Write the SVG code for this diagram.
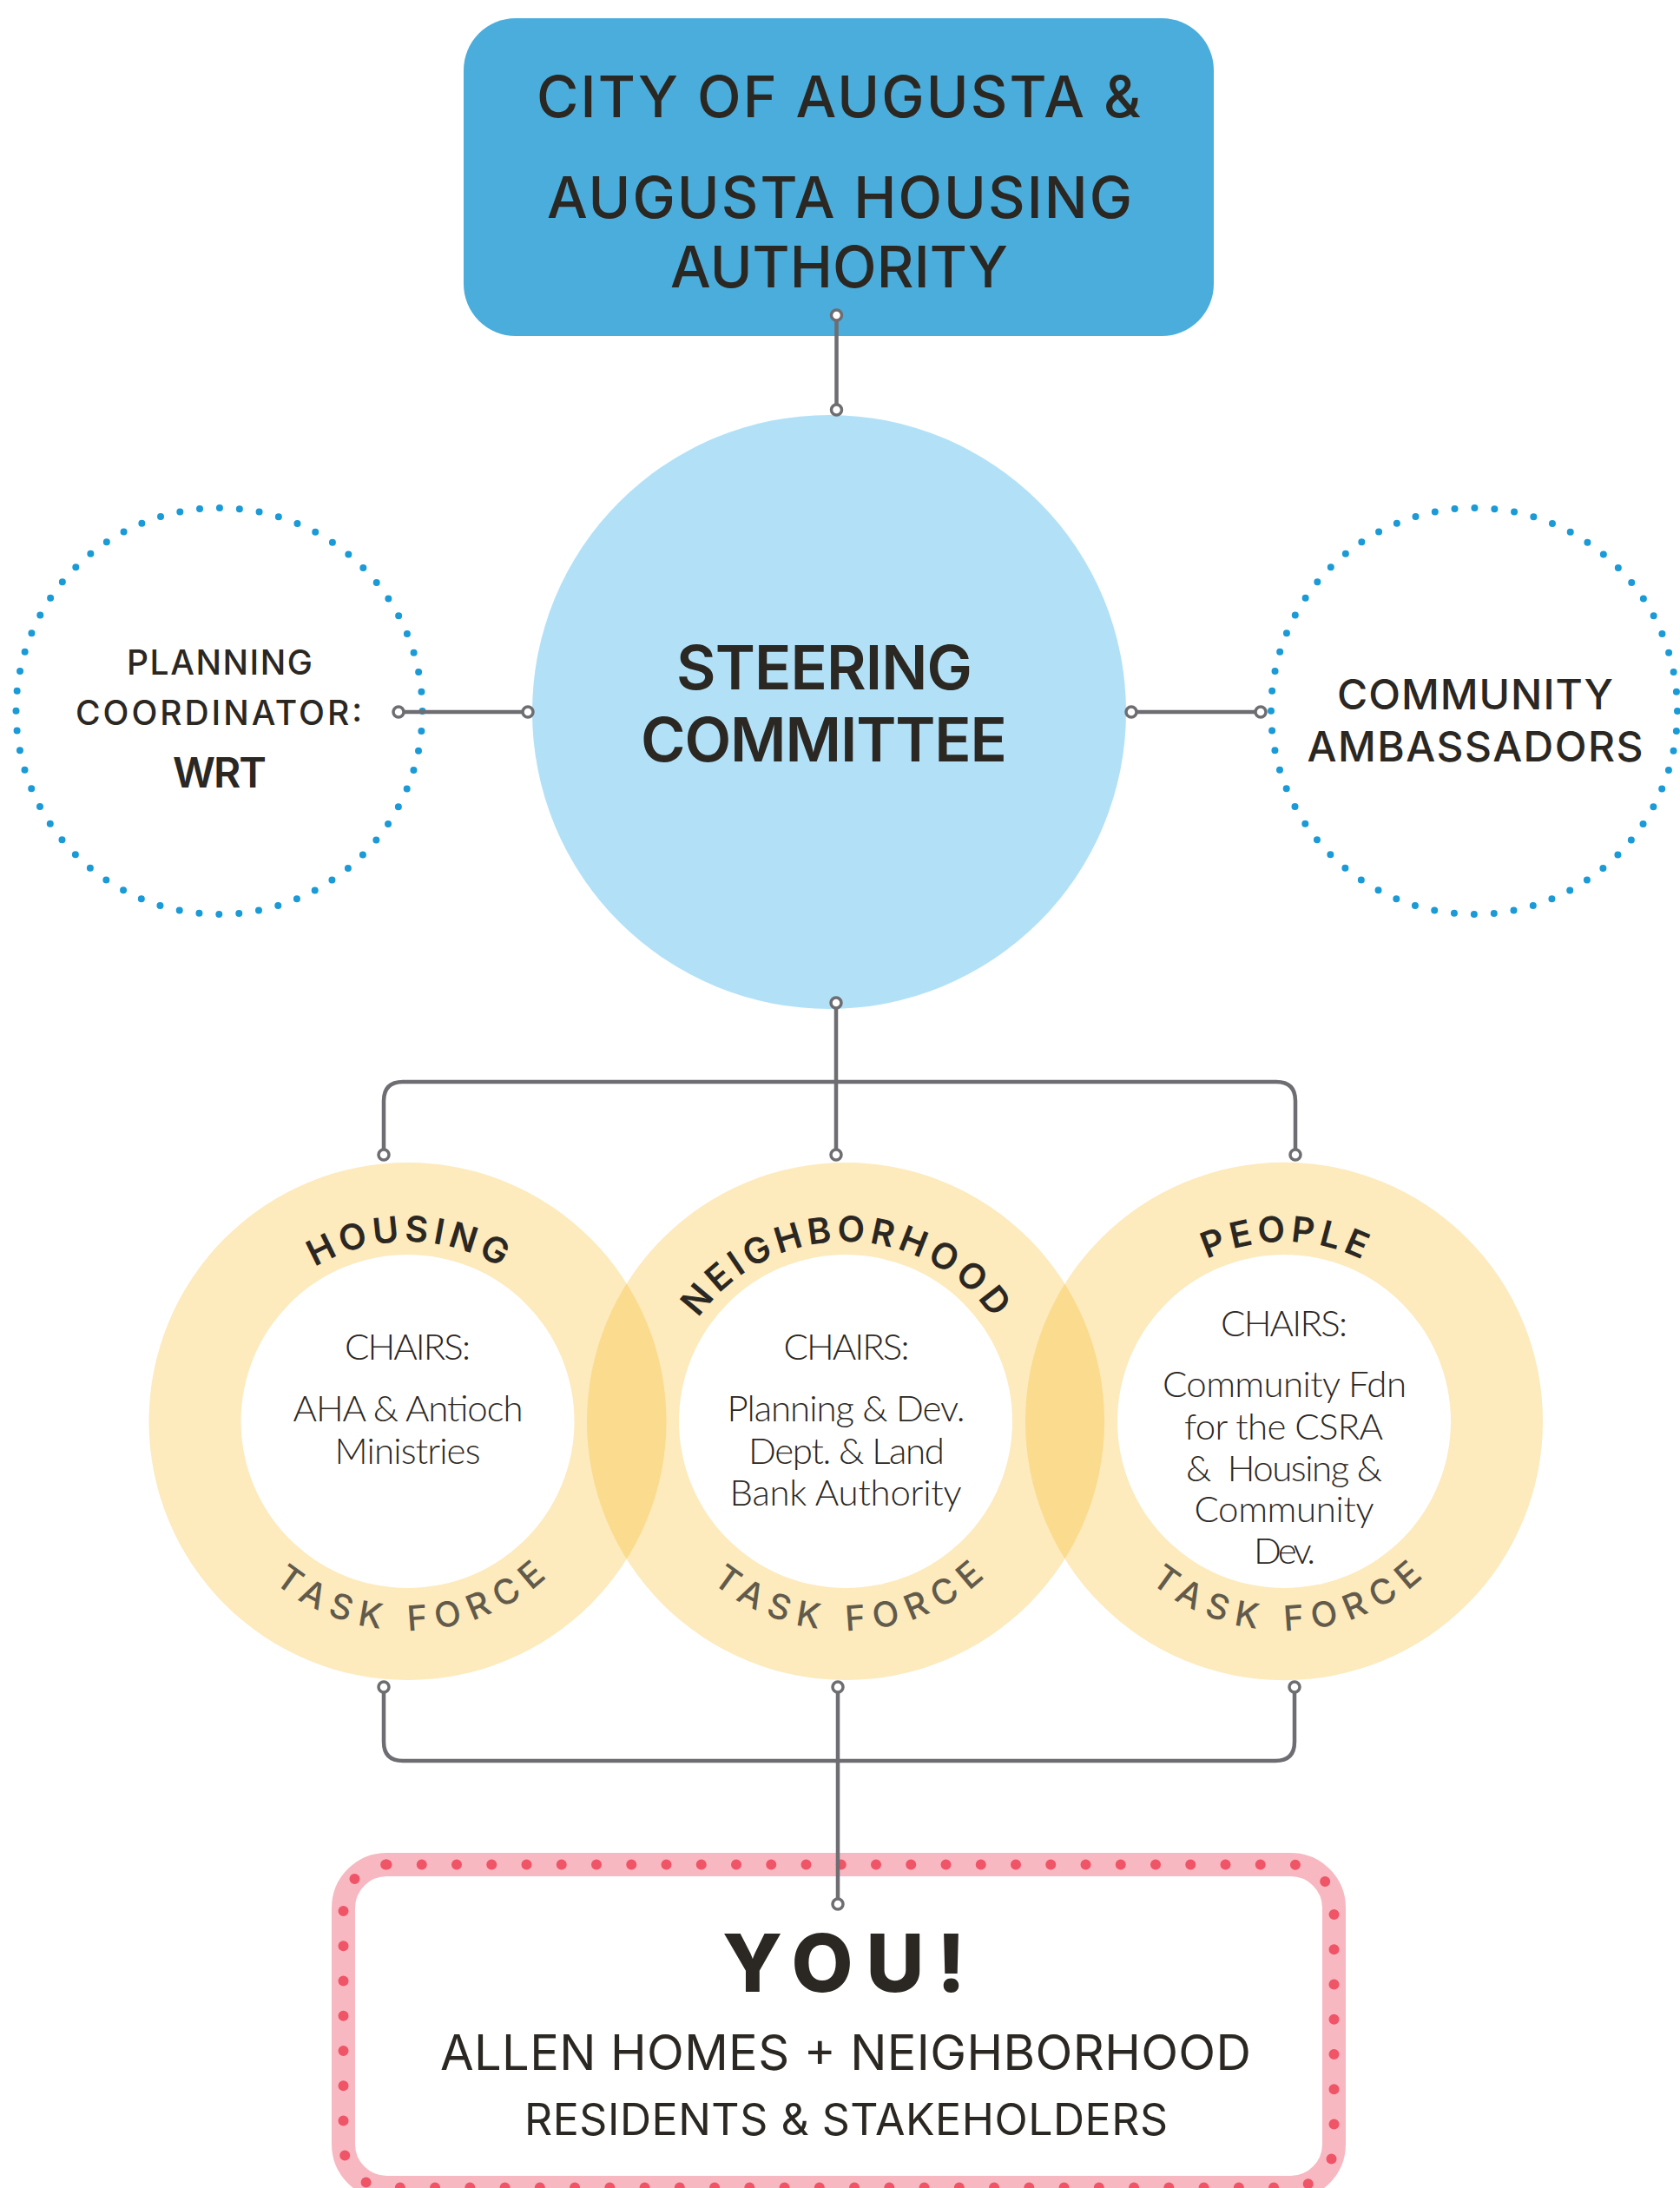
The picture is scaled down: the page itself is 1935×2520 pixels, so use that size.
<svg xmlns="http://www.w3.org/2000/svg" width="1935" height="2520" viewBox="0 0 1935 2520">
<defs>
<style>
.h{font-family:Inter,"Liberation Sans",sans-serif;fill:#2b2722;text-anchor:middle}
.c{font-family:Lato,"Liberation Sans",sans-serif;font-weight:300;fill:#2b2722;font-size:42px;text-anchor:middle}
.lbl{font-family:Inter,"Liberation Sans",sans-serif;font-weight:600;font-size:41px;fill:#2b2722;letter-spacing:5.5px}
.tf{font-family:Inter,"Liberation Sans",sans-serif;font-weight:500;font-size:40px;fill:#625b4b;letter-spacing:10.5px}
.ring{fill:#f8b61a;fill-opacity:.29;fill-rule:evenodd}
.dots{fill:none;stroke:#1a9ad6;stroke-width:8;stroke-linecap:round;stroke-dasharray:0 22.973}
.con{fill:none;stroke:#6d6d72;stroke-width:4.5;stroke-linecap:round}
.end{fill:#fff;stroke:#6d6d72;stroke-width:3.5}
</style>
<path id="hTop" d="M262.5,1637 A207,207 0 0,1 676.5,1637"/>
<path id="nTop" d="M767,1637 A207,207 0 0,1 1181,1637"/>
<path id="pTop" d="M1272,1637 A207,207 0 0,1 1686,1637"/>
<path id="hBot" d="M228.5,1637 A241,241 0 0,0 710.5,1637"/>
<path id="nBot" d="M733,1637 A241,241 0 0,0 1215,1637"/>
<path id="pBot" d="M1238,1637 A241,241 0 0,0 1720,1637"/>
</defs>
<rect width="1935" height="2520" fill="#fff"/>

<g id="authority">
<rect x="534" y="21" width="864" height="366" rx="60" fill="#4aaddc"/>
<text class="h" x="966" y="135" font-size="66" font-weight="500" textLength="696" lengthAdjust="spacing">CITY OF AUGUSTA &amp;</text>
<text class="h" x="967" y="251" font-size="66" font-weight="500" textLength="674" lengthAdjust="spacing">AUGUSTA HOUSING</text>
<text class="h" x="966.5" y="331" font-size="66" font-weight="500" textLength="389" lengthAdjust="spacing">AUTHORITY</text>
</g>

<g id="steering">
<circle cx="955" cy="820" r="342" fill="#b2e1f7"/>
<text class="h" x="949.5" y="794" font-size="70" font-weight="600" textLength="341" lengthAdjust="spacing">STEERING</text>
<text class="h" x="949" y="877" font-size="70" font-weight="600" textLength="422" lengthAdjust="spacing">COMMITTEE</text>
</g>

<g id="planning">
<circle class="dots" cx="252.5" cy="819" r="234"/>
<text class="h" x="253" y="777" font-size="39" font-weight="500" textLength="214" lengthAdjust="spacing">PLANNING</text>
<text class="h" x="252" y="835" font-size="39" font-weight="500" textLength="330" lengthAdjust="spacing">COORDINATOR:</text>
<text class="h" x="253" y="907" font-size="48" font-weight="600" textLength="108" lengthAdjust="spacing">WRT</text>
</g>

<g id="ambassadors">
<circle class="dots" cx="1698" cy="819" r="234"/>
<text class="h" x="1699" y="817" font-size="48" font-weight="500" textLength="318" lengthAdjust="spacing">COMMUNITY</text>
<text class="h" x="1699" y="877" font-size="48" font-weight="500" textLength="387" lengthAdjust="spacing">AMBASSADORS</text>
</g>

<g id="housing">
<path class="ring" d="M171.5,1637 a298,298 0 1,0 596,0 a298,298 0 1,0 -596,0Z M277.5,1637 a192,192 0 1,0 384,0 a192,192 0 1,0 -384,0Z"/>
<text class="lbl"><textPath href="#hTop" startOffset="328" text-anchor="middle">HOUSING</textPath></text>
<text class="tf"><textPath href="#hBot" startOffset="388" text-anchor="middle">TASK FORCE</textPath></text>
<text class="c" x="469.5" y="1566" textLength="145" lengthAdjust="spacing">CHAIRS:</text>
<text class="c" x="470" y="1637" textLength="265" lengthAdjust="spacing">AHA &amp; Antioch</text>
<text class="c" x="469.5" y="1686" textLength="168" lengthAdjust="spacing">Ministries</text>
</g>

<g id="neighborhood">
<path class="ring" d="M676,1637 a298,298 0 1,0 596,0 a298,298 0 1,0 -596,0Z M782,1637 a192,192 0 1,0 384,0 a192,192 0 1,0 -384,0Z"/>
<text class="lbl"><textPath href="#nTop" startOffset="328" text-anchor="middle">NEIGHBORHOOD</textPath></text>
<text class="tf"><textPath href="#nBot" startOffset="388" text-anchor="middle">TASK FORCE</textPath></text>
<text class="c" x="975" y="1566" textLength="145" lengthAdjust="spacing">CHAIRS:</text>
<text class="c" x="974.5" y="1637" textLength="274" lengthAdjust="spacing">Planning &amp; Dev.</text>
<text class="c" x="975" y="1686" textLength="226" lengthAdjust="spacing">Dept. &amp; Land</text>
<text class="c" x="974" y="1734" textLength="267" lengthAdjust="spacing">Bank Authority</text>
</g>

<g id="people">
<path class="ring" d="M1181,1637 a298,298 0 1,0 596,0 a298,298 0 1,0 -596,0Z M1287,1637 a192,192 0 1,0 384,0 a192,192 0 1,0 -384,0Z"/>
<text class="lbl"><textPath href="#pTop" startOffset="328" text-anchor="middle">PEOPLE</textPath></text>
<text class="tf"><textPath href="#pBot" startOffset="388" text-anchor="middle">TASK FORCE</textPath></text>
<text class="c" x="1479" y="1539" textLength="146" lengthAdjust="spacing">CHAIRS:</text>
<text class="c" x="1479.5" y="1609" textLength="281" lengthAdjust="spacing">Community Fdn</text>
<text class="c" x="1478.5" y="1658" textLength="229" lengthAdjust="spacing">for the CSRA</text>
<text class="c" x="1479" y="1706" textLength="226" lengthAdjust="spacing" xml:space="preserve">&amp;  Housing &amp;</text>
<text class="c" x="1479" y="1753" textLength="207" lengthAdjust="spacing">Community</text>
<text class="c" x="1479.5" y="1801" textLength="71" lengthAdjust="spacing">Dev.</text>
</g>

<g id="you">
<rect x="395.5" y="2147.5" width="1141" height="372" rx="50" fill="#fff" stroke="#f7b8c1" stroke-width="27"/>
<rect x="395.5" y="2147.5" width="1141" height="372" rx="50" fill="none" stroke="#ef5467" stroke-width="12" stroke-linecap="round" stroke-dasharray="0 40.25"/>
<text class="h" x="972" y="2294" font-size="92" font-weight="800" textLength="280" lengthAdjust="spacing">YOU!</text>
<text class="h" x="974" y="2384" font-size="56" font-weight="400" textLength="934" lengthAdjust="spacing">ALLEN HOMES + NEIGHBORHOOD</text>
<text class="h" x="974.5" y="2459" font-size="50" font-weight="400" textLength="741" lengthAdjust="spacing">RESIDENTS &amp; STAKEHOLDERS</text>
</g>

<g id="connectors">
<path class="con" d="M963.5,363 V472"/>
<path class="con" d="M459,820 H608"/>
<path class="con" d="M1303,820 H1452"/>
<path class="con" d="M963,1155 V1330"/>
<path class="con" d="M442,1330 V1268 Q442,1246 464,1246 H1470 Q1492,1246 1492,1268 V1330"/>
<path class="con" d="M442,1943 V2006 Q442,2028 464,2028 H1469 Q1491,2028 1491,2006 V1943"/>
<path class="con" d="M965,1943 V2193"/>
<circle class="end" cx="963.5" cy="363" r="6"/>
<circle class="end" cx="963.5" cy="472" r="6"/>
<circle class="end" cx="459" cy="820" r="6"/>
<circle class="end" cx="608" cy="820" r="6"/>
<circle class="end" cx="1303" cy="820" r="6"/>
<circle class="end" cx="1452" cy="820" r="6"/>
<circle class="end" cx="963" cy="1155" r="6"/>
<circle class="end" cx="442" cy="1330" r="6"/>
<circle class="end" cx="963" cy="1330" r="6"/>
<circle class="end" cx="1492" cy="1330" r="6"/>
<circle class="end" cx="442" cy="1943" r="6"/>
<circle class="end" cx="965" cy="1943" r="6"/>
<circle class="end" cx="1491" cy="1943" r="6"/>
<circle class="end" cx="965" cy="2193" r="6"/>
</g>
</svg>
